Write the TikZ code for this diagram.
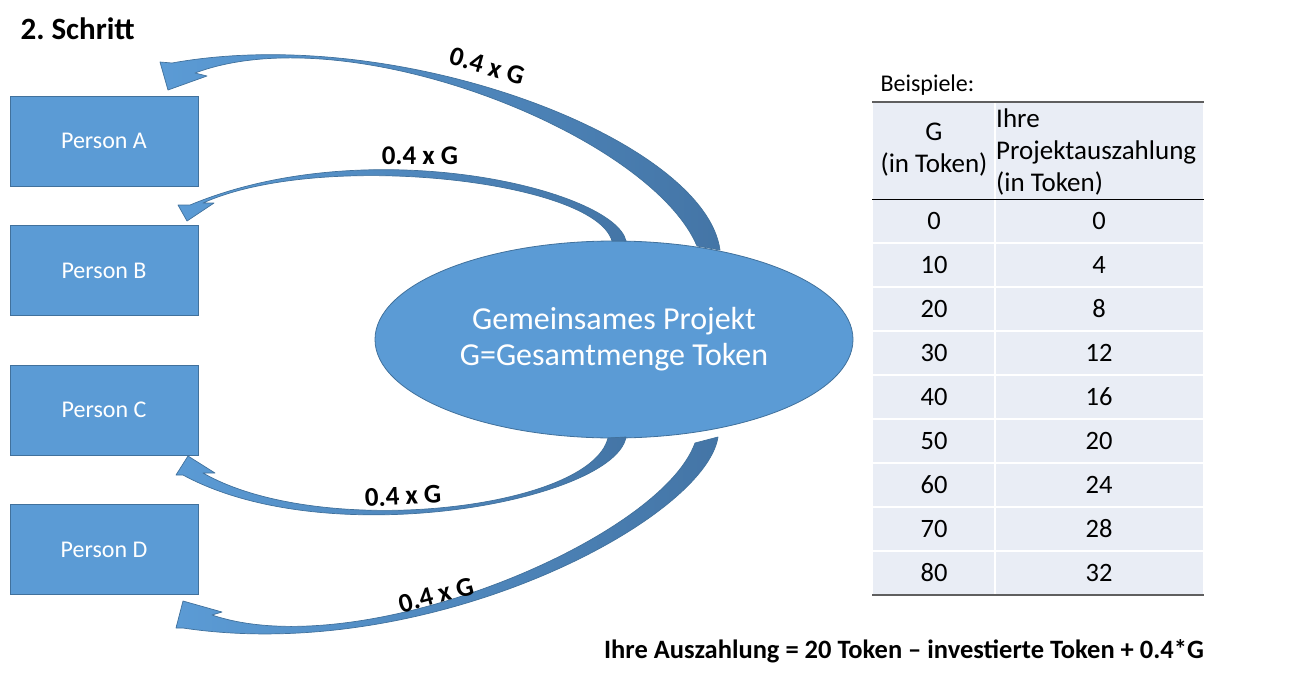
\documentclass[tikz,border=0pt]{standalone}
\usepackage{fontspec}
\setmainfont{Carlito}
\frenchspacing
\usetikzlibrary{shapes.geometric,calc}
\definecolor{boxBlue}{RGB}{91,155,213}
\definecolor{edgeBlue}{RGB}{65,113,156}
\definecolor{darkBlue}{RGB}{68,117,166}
\definecolor{tabFill}{RGB}{233,237,245}
\definecolor{ruleGray}{RGB}{95,95,95}
\tikzset{
  person/.style={draw=edgeBlue, fill=boxBlue, line width=0.8pt, minimum width=188pt, minimum height=90pt, text=white, font=\fontsize{24}{28}\selectfont},
  project/.style={ellipse, draw=edgeBlue, fill=boxBlue, line width=0.8pt, minimum width=478pt, minimum height=197pt, inner sep=0pt, text=white, align=center, font=\fontsize{32}{36}\selectfont},
  flow/.style={draw=edgeBlue, line width=0.7pt, line join=round, left color=boxBlue, right color=darkBlue},
  share/.style={font=\bfseries\fontsize{27}{30}\selectfont, inner sep=1pt},
  head/.style={font=\fontsize{27}{32}\selectfont},
  cell/.style={font=\fontsize{26.5}{30}\selectfont, anchor=base},
  sep/.style={white, line width=1.2pt},
  rule/.style={ruleGray, line width=1.5pt}
}
\begin{document}
\begin{tikzpicture}[x=1pt,y=-1pt]
  \useasboundingbox (0,0) rectangle (1293,683);

  \node[anchor=west, font=\bfseries\fontsize{31}{36}\selectfont] (title) at (17,29) {2. Schritt};

  % Personen
  \node[person] (pA) at (104,141) {Person A};
  \node[person] (pB) at (104,270.5) {Person B};
  \node[person] (pC) at (104,410) {Person C};
  \node[person] (pD) at (104,549.5) {Person D};

  % Projekt
  \node[project] (proj) at (614,339.5) {Gemeinsames Projekt\\G=Gesamtmenge Token};

  % Auszahlungspfeile
  \coordinate (tipA) at (168,90);
  \coordinate (tipB) at (187,221);
  \coordinate (tipC) at (188,456);
  \coordinate (tipD) at (183,601);
  \draw[flow] (720,250) .. controls (705,140) and (400,22) .. (172,63) -- (160,62) -- (tipA) -- (207,76) -- (195,73) .. controls (350,15) and (650,135) .. (697,246) -- cycle;
  \draw[flow] (626,241) .. controls (615,190) and (370,130) .. (190,205) -- (178,205) -- (tipB) -- (214,203) -- (203,203) .. controls (320,150) and (595,180) .. (612,241) -- cycle;
  \draw[flow] (626,437) .. controls (615,500) and (330,555) .. (183,475) -- (176,475) -- (tipC) -- (215,473) -- (203,473) .. controls (320,540) and (590,510) .. (608,438) -- cycle;
  \draw[flow] (718,437) .. controls (705,520) and (430,665) .. (183,628) -- (176,628) -- (tipD) -- (222,612) -- (212,615) .. controls (360,665) and (660,540) .. (695,443) -- cycle;

  \node[share, rotate=-16] (lA) at (487,66) {0.4 x G};
  \node[share] (lB) at (420,156) {0.4 x G};
  \node[share, rotate=3] (lC) at (403,496) {0.4 x G};
  \node[share, rotate=15] (lD) at (436,595) {0.4 x G};

  % Tabelle
  \node[anchor=west, font=\fontsize{24}{28}\selectfont] (bsp) at (877,85) {Beispiele:};
  \fill[tabFill] (873,102) rectangle (1203,595);
  \foreach \y in {243,287,...,551}
    \draw[sep] (873,\y) -- (1203,\y);
  \draw[sep] (995,102) -- (995,595);
  \draw[rule] (872,102) -- (1204,102);
  \draw[black, line width=1pt] (872,199) -- (1204,199);
  \draw[rule] (872,595) -- (1204,595);
  \node[head, align=center] (hG) at (934,150) {G\\(in Token)};
  \node[head, align=left, anchor=west, inner sep=1pt] (hP) at (995,152) {Ihre\\Projektauszahlung\\(in Token)};
  \foreach \g/\p [count=\i] in {0/0,10/4,20/8,30/12,40/16,50/20,60/24,70/28,80/32} {
    \node[cell] (g\i) at (934,{185+44*\i}) {\g};
    \node[cell] (p\i) at (1099,{185+44*\i}) {\p};
  }

  \node[font=\bfseries\fontsize{26.5}{30}\selectfont] (formel) at (904,651) {Ihre Auszahlung = 20 Token – investierte Token + 0.4*G};
\end{tikzpicture}
\end{document}
